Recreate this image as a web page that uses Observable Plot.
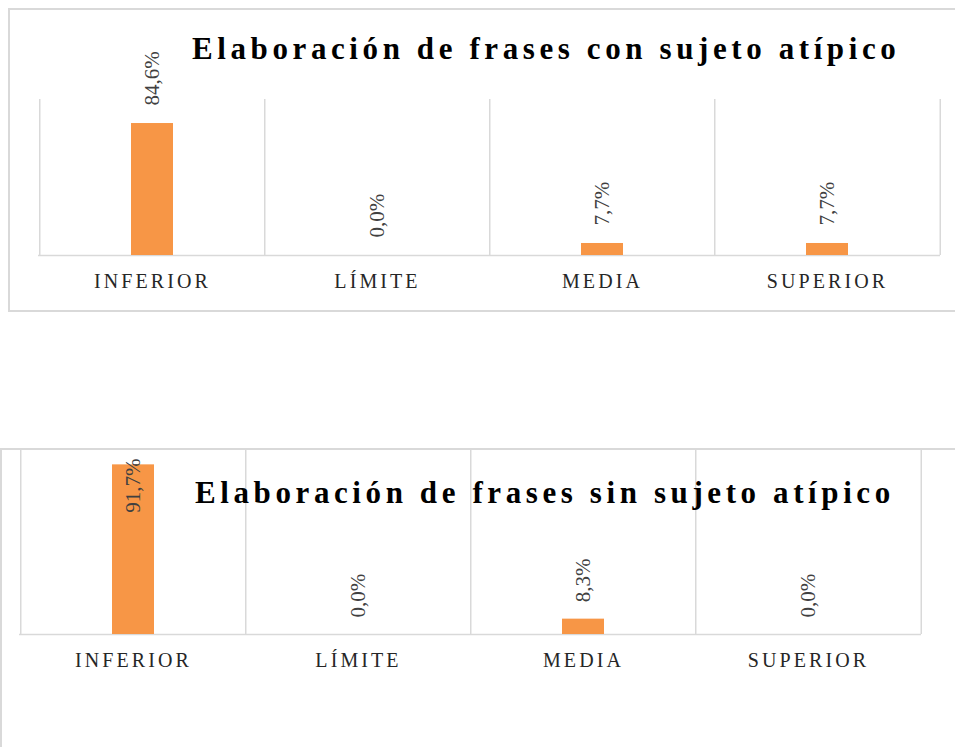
<!DOCTYPE html>
<html><head><meta charset="utf-8">
<script src="https://cdn.jsdelivr.net/npm/d3@7"></script>
<script src="https://cdn.jsdelivr.net/npm/@observablehq/plot@0.6"></script>
<style>
body{margin:0;background:#fff;width:955px;height:747px;overflow:hidden;position:relative;font-family:"Liberation Serif",serif;}
.box{position:absolute;border:0 solid #d9d9d9;box-sizing:border-box;}
.title{position:absolute;font-weight:bold;font-size:31px;letter-spacing:4.6px;color:#000;white-space:nowrap;line-height:31px;font-family:"Liberation Serif",serif;}
.chart{position:absolute;left:0;}
.chart svg{overflow:visible;}
.chart [aria-label="x-axis tick label"] text{letter-spacing:3.1px;}
</style></head><body>
<script>
const categories = ["INFERIOR", "LÍMITE", "MEDIA", "SUPERIOR"];
const valuesCon = [0.846, 0.0, 0.077, 0.077];
const valuesSin = [0.917, 0.0, 0.083, 0.0];
const titleCon = "Elaboración de frases con sujeto atípico";
const titleSin = "Elaboración de frases sin sujeto atípico";

const fmt = v => (v * 100).toFixed(1).replace(".", ",") + "%";

function addBox(style) {
  const d = document.createElement("div");
  d.className = "box";
  Object.assign(d.style, style);
  document.body.appendChild(d);
}
function addTitle(text, left, top) {
  const d = document.createElement("div");
  d.className = "title";
  d.textContent = text;
  d.style.left = left + "px";
  d.style.top = top + "px";
  document.body.appendChild(d);
}

function makeChart({values, top, height, ml, mr, mt, mb, gap}) {
  const data = categories.map((c, i) => ({cat: c, value: values[i], label: fmt(values[i])}));
  const step = (955 - ml - mr) / categories.length;
  const grid = {stroke: "#d9d9d9", strokeWidth: 1.5};
  const lab = {fontSize: 21, fill: "#404040", fontFamily: "Liberation Serif", lineAnchor: "middle"};
  const p = Plot.plot({
    width: 955, height,
    marginLeft: ml, marginRight: mr, marginTop: mt, marginBottom: mb,
    style: {background: "transparent", fontFamily: "Liberation Serif", fontSize: "20px", color: "#262626", overflow: "visible"},
    x: {type: "band", domain: categories, paddingInner: 0.814, paddingOuter: 0.407, axis: null},
    y: {domain: [0, 1], axis: null},
    marks: [
      Plot.ruleX(categories, {x: d => d, dx: -step / 2, ...grid}),
      Plot.ruleX(categories.slice(-1), {x: d => d, dx: step / 2, ...grid}),
      Plot.ruleY([0], grid),
      Plot.barY(data, {x: "cat", y: "value", fill: "#F79646"}),
      Plot.text(data.filter(d => d.value <= 0.9), {x: "cat", y: "value", text: "label", rotate: -90, textAnchor: "start", dy: -gap, ...lab}),
      Plot.text(data.filter(d => d.value > 0.9), {x: "cat", frameAnchor: "top", text: "label", rotate: -90, textAnchor: "end", dy: 9, ...lab}),
      Plot.axisX({tickSize: 0, tickPadding: 18, fontSize: 20, label: null, fill: "#262626"})
    ]
  });
  const wrap = document.createElement("div");
  wrap.className = "chart";
  wrap.style.top = top + "px";
  wrap.appendChild(p);
  document.body.appendChild(wrap);
}

// chart 1 frame
addBox({left: "8px", top: "8px", width: "960px", height: "304px", borderWidth: "2px 0 2px 2px"});
// chart 2 frame
addBox({left: "0px", top: "448px", width: "960px", height: "400px", borderWidth: "2px 0 0 2px"});

makeChart({values: valuesCon, top: 0, height: 320, ml: 38, mr: 15, mt: 99, mb: 65, gap: 18});
makeChart({values: valuesSin, top: 440, height: 307, ml: 19, mr: 34, mt: 9, mb: 113, gap: 17});

addTitle(titleCon, 192, 33);
addTitle(titleSin, 195, 477);
</script>
</body></html>
